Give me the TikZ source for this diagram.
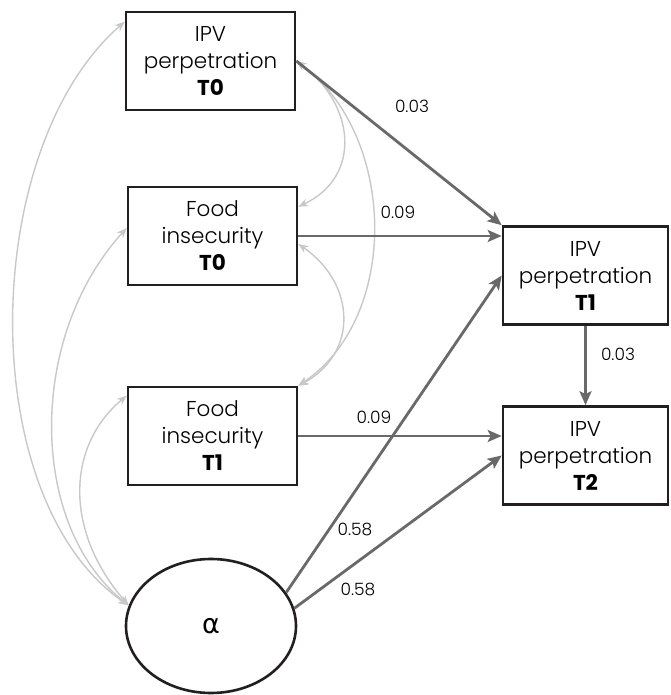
\documentclass[tikz,border=0pt]{standalone}
\usepackage{fontspec}
\setmainfont{Poppins}[UprightFont=* Light,BoldFont=* Bold]
\newfontfamily\grkfont{DejaVu Sans}
\usetikzlibrary{arrows.meta,shapes.geometric}
\definecolor{boxblack}{RGB}{35,31,32}
\definecolor{pathgray}{RGB}{105,105,105}
\definecolor{covgray}{RGB}{200,200,200}

\begin{document}
\begin{tikzpicture}[x=1pt,y=1pt,
  varbox/.style={draw=boxblack,line width=2.6pt,minimum width=169pt,minimum height=98pt,
    inner sep=0pt,align=center,font=\fontsize{21.5}{27}\selectfont},
  latent/.style={ellipse,draw=boxblack,line width=2.6pt,minimum width=170pt,minimum height=134pt,
    inner sep=0pt,font=\grkfont\fontsize{27}{30}\selectfont},
  regr/.style={draw=pathgray,line width=2.8pt,-{Stealth[length=14pt,width=12pt,inset=3pt]}},
  covar/.style={draw=covgray,line width=1.4pt,
    {Stealth[length=10pt,width=8pt]}-{Stealth[length=10pt,width=8pt]}},
  coef/.style={font=\fontsize{17}{20}\selectfont}]
\useasboundingbox (0,0) rectangle (670,695);
\node[varbox] (ipv0) at (210.5,634) {IPV\\perpetration\\\textbf{T0}};
\node[varbox] (food0) at (212.5,459) {Food\\insecurity\\\textbf{T0}};
\node[varbox] (food1) at (212.5,259) {Food\\insecurity\\\textbf{T1}};
\node[varbox,minimum width=165pt] (ipv1) at (585.5,419.5) {IPV\\perpetration\\\textbf{T1}};
\node[varbox,minimum width=165pt] (ipv2) at (585.5,239.5) {IPV\\perpetration\\\textbf{T2}};
\node[latent] (alpha) at (211,69) {α};
\draw[covar] (alpha.166) .. controls +(-155,106) and +(-146,-127) .. ([yshift=-11pt]ipv0.north west);
\draw[covar] (alpha.166) .. controls +(-100,80) and +(-100,-110) .. ([yshift=8pt]food0.west);
\draw[covar] (alpha.166) .. controls +(-65,75) and +(-60,-50) .. ([yshift=-10pt]food1.north west);
\draw[covar] (ipv0.east) .. controls +(59,-43) and +(64,30) .. ([yshift=-21pt]food0.north east);
\draw[covar] (ipv0.east) .. controls +(100,-73) and +(103,69) .. (food1.north east);
\draw[covar] ([yshift=-8pt]food0.east) .. controls +(58,-40) and +(60,32) .. (food1.north east);
\draw[regr] (ipv0.east) -- (ipv1.north west);
\draw[regr] (food0.east) -- (food0.east -| ipv1.west);
\draw[regr] (food1.east) -- (food1.east -| ipv2.west);
\draw[regr] (alpha.24) -- (ipv1.west);
\draw[regr] (alpha.12) -- (ipv2.west);
\draw[regr] (ipv1.south) -- (ipv2.north);
\node[coef] (c1) at (412,589) {0.03};
\node[coef] (c2) at (398,483) {0.09};
\node[coef] (c3) at (374,278) {0.09};
\node[coef] (c4) at (355,165) {0.58};
\node[coef] (c5) at (358,105) {0.58};
\node[coef] (c6) at (618,341) {0.03};
\end{tikzpicture}
\end{document}
